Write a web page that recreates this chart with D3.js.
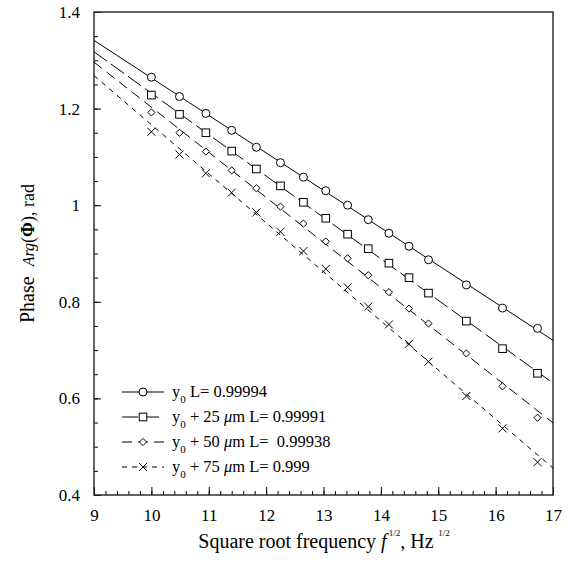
<!DOCTYPE html>
<html>
<head>
<meta charset="utf-8">
<script src="https://cdn.jsdelivr.net/npm/d3@7"></script>
<style>
	body { margin: 0; background: #fff; }
	text { font-family: "Liberation Serif", "Times New Roman", serif; fill: #000; }
</style>
</head>
<body>
<div></div>
<script>
var freqRoot = [10, 10.49, 10.95, 11.4, 11.83, 12.25, 12.65, 13.04, 13.42, 13.78, 14.14, 14.49, 14.83, 15.49, 16.12, 16.73];

var phaseY0 = [1.265, 1.225, 1.19, 1.155, 1.12, 1.088, 1.058, 1.03, 1.0, 0.97, 0.942, 0.915, 0.887, 0.835, 0.787, 0.745],
	phase25 = [1.228, 1.188, 1.15, 1.112, 1.075, 1.04, 1.006, 0.973, 0.94, 0.91, 0.88, 0.85, 0.818, 0.76, 0.703, 0.652],
	phase50 = [1.192, 1.15, 1.111, 1.072, 1.035, 0.997, 0.962, 0.925, 0.89, 0.855, 0.82, 0.786, 0.755, 0.693, 0.625, 0.56],
	phase75 = [1.152, 1.105, 1.066, 1.026, 0.985, 0.945, 0.905, 0.868, 0.83, 0.79, 0.753, 0.713, 0.676, 0.605, 0.538, 0.468];

var seriesShift = ["", "+ 25", "+ 50", "+ 75"],
	seriesL = ["0.99994", "0.99991", "\u00a00.99938", "0.999"],
	seriesMarker = ["circle", "square", "diamond", "cross"],
	seriesDash = [null, "16,5", "10,6", "5,5"];

var xTicks = [9, 10, 11, 12, 13, 14, 15, 16, 17],
	yTicks = [0.4, 0.6, 0.8, 1, 1.2, 1.4];

var margin = {left: 94, top: 12, right: 17, bottom: 70},
	width = 570 - margin.left - margin.right,
	height = 565 - margin.top - margin.bottom;

var svg, plot, x, y;

function onLoad() {
	svg = d3.select("div")
		.append("svg")
		.attr("width", 570)
		.attr("height", 565);

	plot = svg.append("g")
		.attr("transform", "translate(" + margin.left + "," + margin.top + ")");

	x = d3.scaleLinear().domain([9, 17]).range([0, width]);
	y = d3.scaleLinear().domain([0.4, 1.4]).range([height, 0]);

	plot.append("clipPath")
		.attr("id", "clip")
		.append("rect")
		.attr("width", width)
		.attr("height", height);

	drawAxes();

	[phaseY0, phase25, phase50, phase75].forEach(function(values, index) {
		drawFit(values, index);
	});
	[phaseY0, phase25, phase50, phase75].forEach(function(values, index) {
		values.forEach(function(v, i) {
			drawMarker(plot, x(freqRoot[i]), y(v), seriesMarker[index]);
		});
	});

	drawLegend();
	drawTitles();
}

function drawAxes() {
	// ticks point inside the frame
	var xAxis = d3.axisBottom(x).tickValues(xTicks).tickSize(-8).tickPadding(14).tickFormat(d3.format("d"));
	var xMinor = d3.axisBottom(x).tickValues(d3.range(9, 17.01, 0.2)).tickSize(-4).tickFormat("");
	var yAxis = d3.axisLeft(y).tickValues(yTicks).tickSize(-7).tickPadding(14).tickFormat(function(d) { return d === 1 ? "1" : d3.format(".1f")(d); });
	var yMinor = d3.axisLeft(y).tickValues(d3.range(0.4, 1.401, 0.05)).tickSize(-4).tickFormat("");

	[xMinor, xAxis].forEach(function(ax) {
		plot.append("g")
			.attr("transform", "translate(0," + height + ")")
			.call(ax)
			.call(styleAxis);
	});
	[yMinor, yAxis].forEach(function(ax) {
		plot.append("g")
			.call(ax)
			.call(styleAxis);
	});

	plot.append("rect")
		.attr("width", width)
		.attr("height", height)
		.attr("fill", "none")
		.attr("stroke", "#222")
		.attr("stroke-width", 1.4);
}

function styleAxis(g) {
	g.select(".domain").remove();
	g.selectAll("line").attr("stroke", "#000");
	g.selectAll("text")
		.style("font-family", "Liberation Serif")
		.style("font-size", "17px");
}

function drawFit(values, index) {
	var mx = d3.mean(freqRoot),
		my = d3.mean(values),
		sxy = d3.sum(freqRoot, function(d, i) { return (d - mx) * (values[i] - my); }),
		sxx = d3.sum(freqRoot, function(d) { return (d - mx) * (d - mx); }),
		slope = sxy / sxx,
		icpt = my - slope * mx;

	var line = d3.line()
		.x(function(d) { return x(d); })
		.y(function(d) { return y(icpt + slope * d); });

	plot.append("path")
		.datum([9, 17])
		.attr("clip-path", "url(#clip)")
		.attr("d", line)
		.attr("fill", "none")
		.attr("stroke", "#000")
		.attr("stroke-width", 1)
		.attr("stroke-dasharray", seriesDash[index]);
}

function drawMarker(g, cx, cy, type) {
	if(type === "circle") {
		g.append("circle")
			.attr("cx", cx).attr("cy", cy).attr("r", 4)
			.attr("fill", "#fff").attr("stroke", "#000");
	} else if(type === "square") {
		g.append("rect")
			.attr("x", cx - 3.8).attr("y", cy - 3.8)
			.attr("width", 7.6).attr("height", 7.6)
			.attr("fill", "#fff").attr("stroke", "#000");
	} else if(type === "diamond") {
		g.append("path")
			.attr("d", "M" + cx + "," + (cy - 3.6) + "L" + (cx + 3.6) + "," + cy + "L" + cx + "," + (cy + 3.6) + "L" + (cx - 3.6) + "," + cy + "Z")
			.attr("fill", "#fff").attr("stroke", "#000");
	} else {
		g.append("path")
			.attr("d", "M" + (cx - 4) + "," + (cy - 4) + "L" + (cx + 4) + "," + (cy + 4) + "M" + (cx + 4) + "," + (cy - 4) + "L" + (cx - 4) + "," + (cy + 4))
			.attr("fill", "none").attr("stroke", "#000");
	}
}

function drawLegend() {
	var rowY = [392, 417, 442, 467];

	seriesMarker.forEach(function(type, index) {
		var ly = rowY[index];
		svg.append("line")
			.attr("x1", 122).attr("x2", 164)
			.attr("y1", ly).attr("y2", ly)
			.attr("stroke", "#000")
			.attr("stroke-dasharray", seriesDash[index]);
		drawMarker(svg, 143, ly, type);

		var t = svg.append("text")
			.attr("x", 172)
			.attr("y", ly + 5)
			.style("font-size", "16.5px");
		t.append("tspan").text("y");
		t.append("tspan").attr("dy", 6).style("font-size", "11px").text("0");
		if(seriesShift[index]) {
			t.append("tspan").attr("dy", -6).text("\u00a0" + seriesShift[index] + "\u00a0");
			t.append("tspan").style("font-style", "italic").text("\u03bc");
			t.append("tspan").text("m L= " + seriesL[index]);
		} else {
			t.append("tspan").attr("dy", -6).text("\u00a0L= " + seriesL[index]);
		}
	});
}

function drawTitles() {
	var xt = svg.append("text")
		.attr("x", 324)
		.attr("y", 548)
		.attr("text-anchor", "middle")
		.style("font-size", "20px");
	xt.append("tspan").text("Square root frequency ");
	xt.append("tspan").style("font-style", "italic").text("f");
	xt.append("tspan").attr("dy", -12).style("font-size", "9px").text("\u00a01/2");
	xt.append("tspan").attr("dy", 12).text(", Hz");
	xt.append("tspan").attr("dy", -12).style("font-size", "9px").text("\u00a0\u00a01/2");

	var yt = svg.append("text")
		.attr("transform", "translate(34," + (margin.top + height / 2) + ") rotate(-90)")
		.attr("text-anchor", "middle")
		.style("font-size", "20px");
	yt.append("tspan").text("Phase\u00a0\u00a0");
	yt.append("tspan").style("font-style", "italic").style("font-size", "16px").text("Arg");
	yt.append("tspan").style("font-size", "18px").text("(");
	yt.append("tspan").style("font-weight", "bold").style("font-size", "18px").text("\u03a6");
	yt.append("tspan").style("font-size", "18px").text("), rad");
}

onLoad();
</script>
</body>
</html>
